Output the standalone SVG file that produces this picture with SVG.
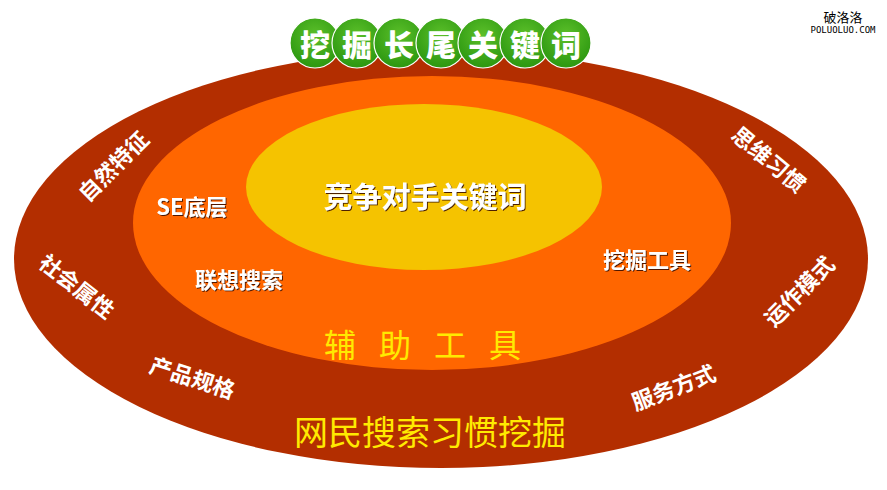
<svg xmlns="http://www.w3.org/2000/svg" width="887" height="490" viewBox="0 0 887 490">
<defs>
<radialGradient id="gball" cx="50%" cy="35%" r="60%">
<stop offset="0" stop-color="#5cc02a"/>
<stop offset="1" stop-color="#2f9a12"/>
</radialGradient>
<filter id="sh" x="-20%" y="-20%" width="140%" height="140%">
<feDropShadow dx="1" dy="1" stdDeviation="0.6" flood-color="#3a1000" flood-opacity="0.9"/>
</filter>
</defs>
<style>
text{font-family:"Noto Sans CJK SC","Liberation Sans",sans-serif;text-anchor:middle;dominant-baseline:central}
.w{fill:#fff;font-weight:bold;font-size:22px}
.ring{fill:#fff;font-weight:bold;font-size:22px}
.y{fill:#ffea00;font-weight:normal}
.t{fill:#fff;font-weight:900;font-size:30px}
.ball{fill:url(#gball);stroke:#ffffff;stroke-width:1.2}
</style>
<rect width="887" height="490" fill="#fff"/>
<g id="outer"><ellipse cx="441" cy="259" rx="427" ry="209" fill="#b32e00"/></g>
<g id="middle"><ellipse cx="432" cy="223" rx="299" ry="147" fill="#ff6600"/></g>
<g id="inner"><ellipse cx="424" cy="187" rx="178" ry="83" fill="#f5c300"/></g>
<g id="connectors"/>
<g id="title">
<circle class="ball" cx="315" cy="43" r="25"/>
<circle class="ball" cx="357" cy="43" r="25"/>
<circle class="ball" cx="399" cy="43" r="25"/>
<circle class="ball" cx="441" cy="43" r="25"/>
<circle class="ball" cx="483" cy="43" r="25"/>
<circle class="ball" cx="525" cy="43" r="25"/>
<circle class="ball" cx="566" cy="43" r="25"/>
<text class="t" x="315" y="43">挖</text>
<text class="t" x="357" y="43">掘</text>
<text class="t" x="399" y="43">长</text>
<text class="t" x="441" y="43">尾</text>
<text class="t" x="483" y="43">关</text>
<text class="t" x="525" y="43">键</text>
<text class="t" x="566" y="43">词</text>
</g>
<g id="center-label"><text class="w" x="425" y="195" style="font-size:29px" filter="url(#sh)">竞争对手关键词</text></g>
<g id="se"><text class="w" x="192" y="205" filter="url(#sh)">SE底层</text></g>
<g id="lianxiang"><text class="w" x="239" y="278" filter="url(#sh)">联想搜索</text></g>
<g id="wajue"><text class="w" x="647" y="258" filter="url(#sh)">挖掘工具</text></g>
<g id="fuzhu"><text class="y" x="434" y="343" style="font-size:32px;letter-spacing:23px">辅助工具</text></g>
<g id="wangmin"><text class="y" x="430" y="430" style="font-size:34px">网民搜索习惯挖掘</text></g>
<g id="ziran"><text class="ring" transform="translate(112,165) rotate(-45)">自然特征</text></g>
<g id="shehui"><text class="ring" transform="translate(78,285) rotate(38)">社会属性</text></g>
<g id="chanpin"><text class="ring" transform="translate(193,376) rotate(18)">产品规格</text></g>
<g id="fuwu"><text class="ring" transform="translate(673,386) rotate(-21)">服务方式</text></g>
<g id="yunzuo"><text class="ring" transform="translate(798,290) rotate(-45)">运作模式</text></g>
<g id="siwei"><text class="ring" transform="translate(770,158) rotate(40)">思维习惯</text></g>
<g id="watermark">
<text x="843" y="16" style="font-size:13px;fill:#000">破洛洛</text>
<text x="843" y="30" style="font-size:9px;fill:#000;font-family:'DejaVu Sans Mono',monospace">POLUOLUO.COM</text>
</g>
</svg>
